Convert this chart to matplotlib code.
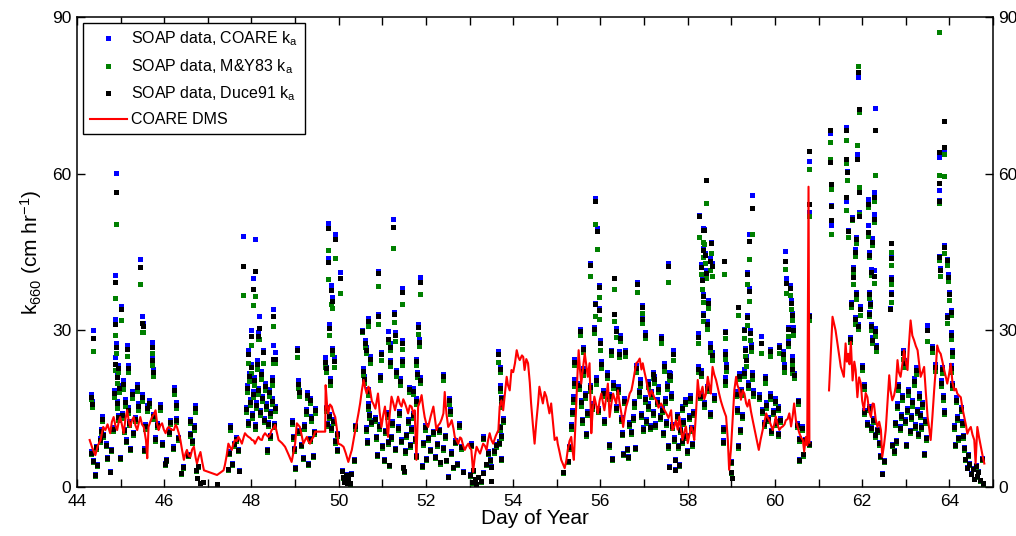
import matplotlib.pyplot as plt
import numpy as np
from matplotlib.ticker import MultipleLocator

plt.rcParams['font.family'] = ['Liberation Sans', 'DejaVu Sans']
plt.rcParams['mathtext.default'] = 'regular'

# SOAP transfer velocities: day of year and k660 for the three ka schemes
day = [
    # 44-47
    44.33, 44.34, 44.37, 44.32, 44.36, 44.42, 44.46, 44.44, 44.52, 44.56,
    44.58, 44.60, 44.66, 44.68, 44.75, 44.78, 44.82, 44.85, 44.86, 44.87,
    44.88, 44.89, 44.90, 44.91, 44.92, 44.93, 44.95, 44.97, 44.98, 45.01,
    45.03, 45.06, 45.08, 45.10, 45.13, 45.15, 45.16, 45.18, 45.20, 45.22,
    45.25, 45.28, 45.32, 45.38, 45.40, 45.45, 45.50, 45.52, 45.48, 45.53,
    45.56, 45.60, 45.66, 45.72, 45.73, 45.74, 45.75, 45.78, 45.83, 45.90,
    45.95, 46.02, 46.04, 46.10, 46.13, 46.20, 46.23, 46.26, 46.28, 46.31,
    46.38, 46.42, 46.55, 46.58, 46.60, 46.63, 46.68, 46.71, 46.73, 46.75,
    46.78, 46.83, 46.89, 47.20,
    # 47.4-50.8
    47.45, 47.48, 47.51, 47.55, 47.60, 47.65, 47.70, 47.72, 47.81, 48.07,
    48.03, 48.18, 47.99, 48.16, 47.93, 48.27, 48.50, 48.50, 48.54, 47.88,
    47.90, 47.92, 47.95, 47.97, 48.00, 48.02, 48.04, 48.06, 48.08, 48.10,
    48.12, 48.14, 48.19, 48.22, 48.24, 48.28, 48.31, 48.34, 48.37, 48.40,
    48.43, 48.46, 48.48, 48.52, 48.55, 48.35, 48.42, 49.04, 49.07, 49.08,
    49.27, 49.25, 49.34, 49.36, 49.46, 48.92, 48.95, 48.98, 49.00, 49.10,
    49.13, 49.17, 49.20, 49.30, 49.33, 49.40, 49.43, 49.75, 49.76, 49.92,
    50.03, 49.83, 49.84, 49.77, 49.85, 49.69, 49.70, 49.90, 49.80, 49.71,
    49.73, 49.78, 49.82, 49.88, 49.91, 49.95, 49.97, 50.08, 50.10, 50.13,
    50.16, 50.19, 50.22, 50.25, 50.27, 50.34, 50.38, 50.54, 50.67, 50.60,
    50.62, 50.72, 50.55, 50.57, 50.66, 50.68, 50.70, 50.62, 50.65, 50.75,
    # 50.8-53.8
    50.90, 50.91, 50.97, 50.95, 51.25, 51.26, 51.45, 51.13, 51.17, 51.29,
    51.46, 51.18, 51.32, 51.44, 51.86, 51.82, 51.83, 51.77, 51.80, 51.87,
    51.71, 51.78, 51.61, 51.40, 52.40, 52.53, 52.55, 52.76, 50.82, 50.85,
    50.88, 50.92, 51.00, 51.03, 51.06, 51.10, 51.12, 51.15, 51.20, 51.23,
    51.30, 51.35, 51.38, 51.42, 51.48, 51.50, 51.52, 51.55, 51.58, 51.63,
    51.66, 51.70, 51.74, 51.76, 51.90, 51.93, 51.97, 52.00, 52.05, 52.10,
    52.15, 52.20, 52.25, 52.30, 52.33, 52.38, 52.43, 52.46, 52.50, 52.58,
    52.62, 52.66, 52.70, 52.80, 52.85, 53.00, 53.05, 53.08, 53.12, 53.15,
    53.20, 53.25, 53.30, 53.50, 53.04, 53.31, 53.46, 53.48, 53.42, 53.38,
    53.73, 53.66, 53.69, 53.70, 53.71, 53.73, 53.70, 53.72, 53.68, 53.77,
    53.55, 53.60,
    # 55-57.6
    55.14, 55.25, 55.28, 55.32, 55.35, 55.37, 55.39, 55.40, 55.52, 55.61,
    55.50, 55.55, 55.58, 55.60, 55.65, 55.68, 55.70, 55.75, 55.80, 55.88,
    55.92, 55.77, 55.96, 55.88, 55.97, 55.86, 56.00, 56.02, 55.90, 56.05,
    55.94, 56.08, 56.19, 56.27, 56.32, 56.31, 56.35, 56.44, 56.25, 56.42,
    56.57, 56.15, 56.20, 56.28, 56.35, 56.40, 56.48, 56.50, 56.55, 56.60,
    56.62, 56.65, 56.52, 56.84, 56.95, 56.96, 57.01, 56.82, 56.70, 56.75,
    56.78, 56.80, 56.88, 56.90, 56.93, 56.98, 57.02, 57.05, 57.08, 57.10,
    57.13, 57.16, 57.20, 57.23, 57.26, 57.30, 57.33, 57.36, 57.40, 57.44,
    57.48, 57.50, 57.55, 57.58, 57.39, 57.55, 57.45, 57.56, 57.53, 57.21,
    # 57.6-60.8
    57.66, 57.60, 57.62, 57.64, 57.68, 57.70, 57.72, 57.75, 57.78, 57.80,
    57.83, 57.86, 57.88, 57.90, 57.93, 57.96, 57.98, 58.02, 58.05, 58.08,
    58.10, 58.12, 58.42, 58.27, 58.34, 58.38, 58.53, 58.35, 58.40, 58.50,
    58.55, 58.30, 58.43, 58.32, 58.36, 58.46, 58.34, 58.44, 58.23, 58.50,
    58.56, 58.24, 58.30, 58.28, 58.38, 58.45, 58.52, 58.60, 58.84, 58.85,
    58.86, 58.87, 58.86, 58.80, 58.82, 58.99, 59.00, 59.02, 59.15, 59.30,
    59.31, 59.47, 59.41, 59.35, 59.36, 59.41, 59.42, 59.45, 59.33, 59.10,
    59.12, 59.18, 59.22, 59.25, 59.28, 59.38, 59.48, 59.50, 59.20, 59.15,
    59.67, 59.78, 59.89, 60.10, 59.64, 59.70, 59.75, 59.80, 59.84, 59.88,
    59.92, 59.95, 60.00, 60.03, 60.06, 60.08, 60.12, 60.24, 60.25, 60.35,
    60.37, 60.38, 60.29, 60.30, 60.41, 60.18, 60.20, 60.39, 60.40, 60.43,
    60.52, 60.50, 60.55, 60.56, 60.64, 60.62, 60.70, 60.77, 60.78, 60.79,
    60.78,
    # 61.2-64.8
    61.26, 61.27, 61.28, 61.29, 61.28, 61.62, 61.63, 61.66, 61.64, 61.76,
    61.67, 61.85, 61.84, 61.91, 61.92, 61.89, 61.93, 61.92, 62.29, 62.27,
    62.13, 62.26, 62.14, 62.23, 62.16, 62.20, 62.27, 62.16, 62.17, 62.15,
    62.20, 62.22, 62.30, 62.32, 62.65, 62.65, 62.65, 62.65, 62.64, 61.78,
    61.80, 61.86, 61.75, 61.83, 61.90, 61.72, 61.95, 62.00, 62.04, 62.05,
    62.10, 62.15, 62.20, 62.25, 62.30, 62.35, 62.38, 62.41, 62.50, 62.46,
    62.69, 62.72, 62.75, 62.78, 62.80, 62.83, 62.86, 62.89, 62.92, 62.93,
    62.95, 62.98, 63.01, 63.03, 63.06, 63.09, 63.12, 63.15, 63.18, 63.20,
    63.23, 63.25, 63.28, 63.30, 63.32, 63.35, 63.38, 63.41, 63.43, 63.46,
    63.48, 63.59, 63.75, 63.88, 63.88, 63.76, 63.76, 63.88, 63.77, 63.95,
    63.78, 63.97, 63.98, 64.03, 63.95, 64.04, 64.06, 63.84, 63.80, 63.88,
    63.85, 64.03, 64.05, 64.10, 64.12, 64.26, 64.28, 64.30, 64.33, 64.36,
    64.40, 64.43, 64.46, 64.50, 64.53, 64.56, 64.60, 64.63, 64.66, 64.70,
    64.76, 64.74, 64.15, 64.18, 64.20, 63.68,
]

k_coare = [
    17.9, 16.4, 30.0, 6.9, 5.1, 2.5, 4.4, 7.9, 9.4, 11.2,
    13.6, 10.2, 8.4, 5.8, 3.0, 7.2, 11.5, 18.6, 24.9, 32.1,
    40.6, 60.1, 27.6, 21.8, 16.4, 13.8, 23.4, 19.6, 5.8, 34.6,
    14.2, 20.5, 11.2, 16.8, 9.2, 27.2, 23.3, 15.3, 12.6, 7.5,
    18.4, 10.6, 13.5, 19.8, 16.0, 43.7, 32.7, 31.5, 17.8, 7.4,
    12.0, 15.7, 16.6, 25.0, 27.7, 22.6, 14.0, 9.5, 12.2, 15.8,
    8.6, 4.6, 5.3, 10.9, 12.8, 7.8, 19.1, 16.2, 13.3, 9.6,
    2.7, 4.0, 6.4, 13.0, 10.4, 9.0, 11.8, 15.7, 3.3, 1.8,
    4.1, 0.8, 1.0, 0.5,
    3.5, 6.8, 11.9, 4.6, 8.4, 9.5, 7.2, 3.2, 48.0, 47.4,
    40.1, 32.8, 30.0, 29.7, 26.3, 26.3, 34.1, 27.2, 25.8, 15.4,
    19.5, 12.6, 21.8, 16.8, 23.6, 14.2, 18.4, 21.0, 12.0, 16.2,
    24.3, 19.0, 14.8, 22.2, 17.5, 13.3, 20.0, 16.0, 12.5, 18.7,
    14.6, 21.0, 17.0, 12.2, 15.6, 7.2, 10.0, 26.7, 20.5, 18.6,
    18.2, 15.0, 17.1, 13.6, 15.2, 12.8, 9.8, 7.4, 3.8, 11.0,
    8.3, 5.8, 12.0, 4.6, 9.4, 6.2, 10.8, 50.6, 43.8, 48.5,
    41.2, 38.7, 36.4, 31.3, 26.6, 24.9, 23.0, 24.8, 20.8, 15.4,
    12.3, 14.0, 11.6, 13.0, 9.0, 7.2, 10.4, 3.2, 1.9, 1.0,
    2.4, 0.8, 1.6, 0.7, 2.6, 5.3, 11.9, 30.0, 32.4, 28.1,
    26.9, 25.0, 22.7, 21.2, 18.8, 16.0, 14.2, 11.5, 9.0, 12.8,
    41.4, 33.2, 25.8, 21.4, 51.3, 33.5, 38.1, 29.8, 27.5, 29.7,
    28.1, 24.3, 22.4, 24.6, 40.2, 31.2, 28.4, 24.6, 22.1, 21.0,
    18.9, 17.0, 19.2, 20.8, 21.7, 17.0, 15.0, 12.2, 13.5, 9.8,
    6.4, 12.0, 8.0, 5.4, 11.0, 14.4, 8.8, 4.3, 9.8, 12.6,
    7.5, 11.6, 14.6, 9.2, 3.9, 3.1, 7.0, 10.2, 13.0, 8.2,
    11.4, 14.2, 9.4, 6.2, 4.2, 8.6, 11.8, 5.6, 9.6, 7.2,
    10.8, 6.0, 8.4, 11.2, 4.8, 7.6, 10.0, 5.2, 2.1, 6.8,
    3.9, 9.0, 4.6, 7.8, 3.0, 2.4, 0.9, 3.3, 1.5, 0.6,
    2.0, 1.1, 2.8, 1.2, 8.4, 9.7, 5.3, 4.0, 6.8, 4.5,
    5.6, 26.0, 23.0, 19.5, 16.1, 17.3, 11.6, 10.0, 8.8, 13.2,
    7.0, 8.2,
    2.9, 5.0, 7.8, 12.0, 14.8, 17.5, 20.6, 24.5, 30.2, 26.9,
    20.0, 16.6, 13.1, 22.8, 18.0, 10.4, 14.6, 19.6, 16.0, 55.4,
    49.5, 42.8, 38.7, 35.3, 34.2, 30.7, 28.1, 24.2, 21.0, 18.5,
    15.2, 13.0, 8.2, 5.6, 40.1, 33.1, 30.4, 29.1, 26.2, 26.0,
    26.2, 22.0, 17.9, 20.2, 15.6, 19.4, 13.4, 10.5, 17.0, 7.4,
    6.0, 12.4, 6.6, 39.2, 34.8, 32.6, 29.6, 23.3, 10.8, 13.6,
    16.4, 7.7, 18.6, 20.6, 14.2, 11.4, 17.2, 13.0, 20.3, 16.0,
    11.8, 18.4, 14.6, 21.2, 12.2, 16.8, 19.4, 13.8, 15.2, 10.6,
    17.0, 12.6, 8.0, 4.0, 28.9, 42.8, 23.7, 22.0, 20.0, 22.1,
    26.3, 21.8, 18.0, 12.0, 9.5, 5.4, 3.4, 14.0, 8.0, 4.4,
    11.2, 15.6, 9.0, 12.8, 16.8, 10.0, 7.0, 13.8, 17.6, 11.4,
    8.4, 14.6, 58.7, 52.1, 49.6, 49.4, 46.9, 45.8, 44.9, 43.8,
    42.8, 42.7, 41.5, 40.5, 37.0, 35.8, 33.3, 31.8, 29.4, 27.5,
    25.8, 23.2, 22.4, 18.0, 16.2, 19.4, 14.4, 17.6, 43.3, 29.9,
    26.0, 23.6, 21.0, 11.4, 9.0, 4.9, 2.9, 1.8, 34.5, 30.2,
    26.6, 55.9, 48.4, 41.2, 33.0, 38.2, 30.0, 27.4, 25.0, 18.4,
    15.2, 21.8, 18.8, 14.0, 22.6, 20.2, 22.0, 18.6, 11.2, 8.0,
    28.9, 21.2, 26.4, 27.2, 17.8, 15.0, 12.4, 16.2, 13.4, 18.0,
    11.0, 14.8, 17.0, 12.6, 15.6, 10.4, 13.2, 45.1, 40.1, 38.7,
    35.8, 33.3, 30.7, 28.1, 30.7, 26.0, 23.5, 25.0, 23.2, 21.8,
    16.7, 12.2, 9.4, 5.3, 6.4, 11.6, 9.2, 62.4, 52.7, 33.0,
    8.5,
    67.7, 62.5, 58.1, 50.1, 54.0, 68.9, 62.3, 60.5, 54.7, 51.7,
    49.2, 47.9, 45.6, 78.6, 72.3, 63.8, 57.0, 52.6, 72.6, 56.5,
    55.2, 52.3, 50.1, 47.6, 45.0, 41.8, 41.5, 37.4, 35.4, 33.5,
    31.3, 28.8, 30.5, 27.2, 46.7, 44.4, 40.2, 37.4, 34.2, 42.1,
    40.9, 37.4, 35.5, 32.6, 31.3, 28.7, 34.6, 23.3, 19.8, 14.7,
    12.4, 15.6, 11.6, 13.2, 10.2, 11.2, 8.6, 6.1, 5.1, 2.6,
    8.3, 7.0, 12.5, 9.0, 16.0, 19.8, 11.6, 14.0, 17.6, 26.2,
    24.3, 13.0, 8.2, 15.2, 18.8, 11.0, 13.8, 16.6, 20.8, 12.0,
    23.0, 15.0, 10.4, 18.0, 14.2, 11.8, 16.2, 6.6, 13.0, 9.6,
    31.0, 27.0, 63.2, 70.0, 64.8, 56.8, 55.0, 46.3, 44.2, 43.7,
    41.9, 40.7, 37.4, 33.8, 33.0, 29.7, 26.2, 23.0, 20.5, 14.7,
    17.6, 23.4, 20.0, 11.8, 8.3, 15.4, 12.6, 10.0, 7.6, 5.4,
    3.8, 6.4, 4.6, 2.6, 3.6, 1.6, 4.2, 2.2, 3.0, 1.3,
    0.7, 5.6, 17.2, 13.6, 9.6, 23.6,
]

k_my83 = [
    16.8, 15.3, 26.1, 6.3, 4.8, 2.2, 4.0, 7.3, 8.7, 10.4,
    12.7, 9.6, 7.8, 5.4, 2.8, 6.8, 10.8, 17.2, 22.4, 29.1,
    36.2, 50.3, 25.6, 20.0, 15.2, 12.8, 22.0, 18.2, 5.4, 32.0,
    13.2, 18.8, 10.5, 15.6, 8.6, 25.1, 22.1, 14.2, 11.8, 7.0,
    17.1, 9.9, 12.6, 18.4, 14.8, 38.9, 29.6, 29.6, 16.5, 6.9,
    11.2, 14.6, 15.6, 23.4, 25.6, 21.3, 13.0, 8.9, 11.4, 14.8,
    8.0, 4.3, 4.9, 10.2, 12.0, 7.3, 17.9, 15.2, 12.4, 9.0,
    2.5, 3.7, 6.0, 12.2, 9.7, 8.4, 11.0, 14.4, 3.0, 1.7,
    3.8, 0.7, 0.9, 0.5,
    3.2, 6.4, 11.0, 4.3, 7.9, 8.9, 6.8, 3.0, 36.7, 36.6,
    34.8, 28.3, 27.2, 28.3, 23.7, 23.7, 30.8, 23.7, 23.7, 14.3,
    18.2, 11.8, 20.3, 15.7, 21.8, 13.2, 17.2, 19.6, 11.2, 15.1,
    22.6, 17.8, 13.8, 20.6, 16.4, 12.4, 18.6, 15.0, 11.7, 17.4,
    13.6, 19.6, 15.9, 11.4, 14.6, 6.7, 9.3, 24.8, 19.0, 17.4,
    17.0, 14.0, 16.0, 12.7, 14.2, 12.0, 9.2, 6.9, 3.5, 10.3,
    7.8, 5.4, 11.2, 4.3, 8.8, 5.8, 10.1, 45.4, 39.9, 43.9,
    37.1, 35.1, 34.2, 29.1, 25.4, 22.9, 22.0, 23.0, 19.6, 14.6,
    11.6, 13.2, 10.9, 12.2, 8.5, 6.8, 9.8, 3.0, 1.8, 0.9,
    2.2, 0.7, 1.5, 0.6, 2.4, 4.9, 11.2, 29.7, 30.8, 26.9,
    25.6, 23.8, 21.5, 20.0, 17.6, 15.0, 13.3, 10.8, 8.4, 12.0,
    38.5, 31.2, 24.3, 20.5, 45.7, 31.6, 35.1, 27.8, 26.3, 28.0,
    26.5, 23.2, 21.3, 23.4, 36.9, 29.3, 27.0, 23.4, 21.0, 19.9,
    17.8, 15.9, 18.1, 19.6, 20.5, 15.9, 14.0, 11.4, 12.7, 9.2,
    6.0, 11.2, 7.5, 5.0, 10.3, 13.5, 8.2, 4.0, 9.2, 11.8,
    7.0, 10.9, 13.7, 8.6, 3.6, 2.9, 6.6, 9.6, 12.2, 7.7,
    10.7, 13.3, 8.8, 5.8, 3.9, 8.1, 11.0, 5.2, 9.0, 6.8,
    10.2, 5.6, 7.9, 10.5, 4.5, 7.1, 9.4, 4.9, 2.0, 6.4,
    3.6, 8.4, 4.3, 7.3, 2.8, 2.2, 0.8, 3.1, 1.4, 0.6,
    1.9, 1.0, 2.6, 1.1, 7.9, 9.1, 5.0, 3.8, 6.4, 4.2,
    5.2, 24.0, 22.0, 18.4, 15.4, 16.6, 11.0, 9.4, 8.2, 12.4,
    6.6, 7.7,
    2.7, 4.7, 7.3, 11.2, 13.9, 16.2, 19.4, 23.4, 29.2, 25.8,
    18.8, 15.6, 12.3, 21.5, 17.0, 9.8, 13.8, 18.4, 15.0, 50.3,
    45.5, 40.4, 36.4, 32.8, 32.1, 29.4, 26.2, 22.8, 19.8, 17.4,
    14.3, 12.2, 7.7, 5.2, 37.9, 31.8, 28.8, 28.0, 25.3, 24.8,
    25.0, 20.8, 16.9, 19.0, 14.7, 18.2, 12.6, 9.9, 16.0, 7.0,
    5.6, 11.7, 6.2, 37.4, 33.4, 31.4, 28.5, 22.0, 10.2, 12.8,
    15.4, 7.2, 17.5, 19.4, 13.4, 10.7, 16.2, 12.2, 19.1, 15.0,
    11.1, 17.3, 13.7, 20.0, 11.5, 15.8, 18.2, 13.0, 14.3, 10.0,
    16.0, 11.9, 7.5, 3.8, 27.5, 39.2, 22.3, 20.6, 18.8, 20.9,
    24.3, 20.5, 17.0, 11.3, 8.9, 5.1, 3.2, 13.2, 7.5, 4.1,
    10.5, 14.7, 8.5, 12.0, 15.8, 9.4, 6.6, 13.0, 16.5, 10.7,
    7.9, 13.7, 54.3, 47.9, 47.0, 46.5, 44.8, 44.0, 42.8, 41.5,
    40.5, 40.8, 40.0, 38.0, 35.4, 34.2, 31.8, 30.2, 27.5, 25.8,
    24.3, 22.0, 21.2, 17.0, 15.3, 18.3, 13.6, 16.6, 40.8, 28.5,
    24.6, 22.2, 19.6, 10.7, 8.4, 4.6, 2.7, 1.7, 32.9, 28.5,
    25.0, 48.4, 43.6, 38.8, 31.0, 35.6, 28.1, 26.0, 23.2, 17.4,
    14.3, 20.6, 17.7, 13.2, 21.3, 19.0, 20.7, 17.5, 10.5, 7.5,
    25.6, 20.0, 25.0, 25.6, 16.8, 14.1, 11.7, 15.2, 12.6, 16.9,
    10.3, 13.9, 16.0, 11.8, 14.7, 9.8, 12.4, 41.7, 37.1, 36.8,
    34.0, 32.0, 29.0, 27.0, 29.2, 24.5, 22.0, 23.6, 21.9, 20.8,
    15.8, 11.5, 8.8, 5.0, 6.0, 10.9, 8.6, 60.8, 51.8, 32.0,
    8.0,
    66.0, 62.9, 57.1, 48.4, 53.8, 66.5, 62.1, 58.7, 53.0, 51.1,
    47.9, 46.8, 44.2, 80.6, 71.9, 65.4, 57.5, 52.3, 59.7, 54.8,
    53.6, 50.8, 48.0, 46.4, 44.1, 40.6, 39.0, 36.2, 34.6, 32.8,
    30.0, 27.5, 29.0, 26.0, 45.0, 42.5, 38.9, 35.4, 34.0, 40.9,
    38.9, 36.0, 34.5, 31.3, 30.2, 27.8, 33.0, 22.4, 18.8, 13.9,
    11.8, 14.8, 11.0, 12.5, 9.6, 10.5, 8.1, 5.8, 4.8, 2.4,
    7.8, 6.6, 11.8, 8.5, 15.1, 18.6, 10.9, 13.2, 16.6, 24.6,
    23.0, 12.2, 7.8, 14.3, 17.7, 10.4, 13.0, 15.6, 19.6, 11.3,
    21.7, 14.1, 9.8, 17.0, 13.4, 11.1, 15.3, 6.2, 12.2, 9.0,
    28.0, 25.9, 87.1, 63.7, 59.5, 59.7, 54.3, 44.8, 43.5, 42.5,
    40.5, 39.5, 35.8, 33.0, 31.4, 28.3, 25.0, 21.8, 19.4, 13.9,
    16.6, 22.0, 19.0, 11.1, 7.8, 14.5, 11.8, 9.4, 7.1, 5.1,
    3.6, 6.0, 4.3, 2.4, 3.4, 1.5, 3.9, 2.0, 2.8, 1.2,
    0.6, 5.2, 16.2, 12.8, 9.0, 22.3,
]

k_duce91 = [
    17.2, 15.8, 28.6, 6.6, 5.0, 2.3, 4.2, 7.6, 9.0, 10.8,
    13.1, 9.9, 8.1, 5.6, 2.9, 7.0, 11.2, 18.0, 23.6, 31.2,
    39.2, 56.5, 26.9, 21.0, 16.0, 13.4, 22.8, 18.9, 5.6, 34.0,
    13.8, 19.8, 10.9, 16.3, 8.9, 26.4, 22.8, 14.8, 12.2, 7.2,
    17.8, 10.3, 13.1, 19.2, 15.5, 42.2, 31.5, 30.8, 17.2, 7.1,
    11.6, 15.2, 16.1, 24.3, 26.9, 22.0, 13.6, 9.2, 11.8, 15.3,
    8.3, 4.5, 5.1, 10.6, 12.4, 7.5, 18.5, 15.7, 12.9, 9.3,
    2.6, 3.9, 6.2, 12.6, 10.1, 8.8, 11.4, 15.2, 3.2, 1.8,
    4.0, 0.8, 1.0, 0.5,
    3.4, 6.6, 11.5, 4.5, 8.2, 9.2, 7.0, 3.1, 42.4, 41.4,
    38.0, 30.5, 29.0, 29.0, 25.4, 25.8, 32.8, 24.6, 24.5, 15.0,
    18.9, 12.2, 21.2, 16.3, 22.9, 13.8, 17.9, 20.4, 11.6, 15.7,
    23.6, 18.5, 14.4, 21.6, 17.0, 12.9, 19.4, 15.5, 12.1, 18.2,
    14.2, 20.4, 16.5, 11.8, 15.1, 7.0, 9.7, 26.2, 19.8, 18.1,
    17.6, 14.6, 16.6, 13.2, 14.8, 12.4, 9.5, 7.2, 3.7, 10.7,
    8.1, 5.6, 11.6, 4.5, 9.1, 6.0, 10.5, 49.5, 43.1, 47.5,
    40.1, 37.8, 35.6, 30.4, 26.2, 24.0, 22.7, 24.2, 20.3, 15.1,
    12.0, 13.6, 11.3, 12.6, 8.8, 7.0, 10.1, 3.1, 1.9, 1.0,
    2.3, 0.8, 1.6, 0.7, 2.5, 5.2, 11.6, 29.8, 31.8, 27.6,
    26.2, 24.6, 22.2, 20.7, 18.3, 15.6, 13.8, 11.2, 8.7, 12.4,
    40.9, 32.7, 25.4, 21.0, 49.7, 33.2, 37.3, 28.4, 26.9, 29.2,
    27.6, 23.9, 22.0, 24.1, 39.3, 30.7, 27.8, 24.1, 21.7, 20.5,
    18.4, 16.5, 18.7, 20.3, 21.2, 16.6, 14.6, 11.9, 13.1, 9.5,
    6.2, 11.6, 7.8, 5.2, 10.7, 14.0, 8.6, 4.2, 9.5, 12.2,
    7.3, 11.3, 14.2, 8.9, 3.8, 3.0, 6.8, 9.9, 12.6, 8.0,
    11.1, 13.8, 9.1, 6.0, 4.1, 8.4, 11.4, 5.4, 9.3, 7.0,
    10.5, 5.8, 8.2, 10.9, 4.7, 7.4, 9.7, 5.1, 2.0, 6.6,
    3.8, 8.7, 4.5, 7.6, 2.9, 2.3, 0.9, 3.2, 1.5, 0.6,
    2.0, 1.1, 2.7, 1.1, 8.1, 9.4, 5.2, 3.9, 6.6, 4.4,
    5.4, 25.4, 22.6, 19.0, 15.8, 17.0, 11.4, 9.7, 8.5, 12.9,
    6.8, 8.0,
    2.8, 4.9, 7.6, 11.6, 14.4, 16.9, 20.0, 24.0, 29.8, 26.4,
    19.5, 16.2, 12.8, 22.2, 17.6, 10.1, 14.2, 19.1, 15.6, 54.8,
    49.1, 42.5, 38.3, 35.0, 33.8, 30.2, 27.5, 23.6, 20.4, 18.0,
    14.8, 12.6, 8.0, 5.4, 40.1, 33.1, 29.8, 28.6, 26.0, 25.5,
    25.8, 21.4, 17.4, 19.6, 15.2, 18.8, 13.0, 10.2, 16.5, 7.2,
    5.8, 12.1, 6.4, 38.8, 34.4, 32.2, 29.2, 22.8, 10.5, 13.2,
    16.0, 7.5, 18.1, 20.0, 13.8, 11.1, 16.8, 12.6, 19.7, 15.5,
    11.5, 17.9, 14.2, 20.6, 11.9, 16.3, 18.8, 13.4, 14.8, 10.3,
    16.5, 12.2, 7.8, 3.9, 28.6, 42.3, 23.1, 21.4, 19.4, 21.6,
    25.5, 21.2, 17.5, 11.6, 9.2, 5.2, 3.3, 13.6, 7.8, 4.3,
    10.9, 15.2, 8.8, 12.4, 16.3, 9.7, 6.8, 13.4, 17.1, 11.1,
    8.2, 14.2, 58.8, 51.9, 49.3, 49.2, 46.7, 45.4, 44.5, 43.2,
    42.4, 42.2, 41.0, 39.6, 36.6, 35.3, 32.9, 31.3, 28.8, 26.9,
    25.3, 22.6, 21.9, 17.5, 15.8, 18.9, 14.0, 17.1, 43.3, 29.6,
    25.4, 23.0, 20.3, 11.1, 8.7, 4.8, 2.8, 1.8, 34.4, 30.0,
    26.2, 53.5, 47.2, 40.8, 32.6, 37.6, 29.4, 26.9, 24.3, 17.9,
    14.8, 21.2, 18.3, 13.6, 21.9, 19.6, 21.4, 18.0, 10.9, 7.8,
    27.5, 20.8, 26.0, 26.8, 17.3, 14.6, 12.0, 15.7, 13.0, 17.5,
    10.7, 14.4, 16.5, 12.2, 15.1, 10.1, 12.8, 43.3, 39.0, 38.2,
    35.2, 33.0, 30.2, 27.6, 30.0, 25.4, 23.0, 24.4, 22.6, 21.4,
    16.4, 11.9, 9.1, 5.2, 6.3, 11.3, 9.0, 64.4, 54.2, 32.7,
    8.3,
    68.4, 62.2, 58.0, 51.2, 53.9, 68.4, 62.9, 60.3, 55.5, 51.4,
    49.0, 47.4, 45.0, 79.5, 72.3, 62.9, 56.5, 51.8, 68.4, 55.5,
    54.2, 51.4, 48.8, 47.0, 44.5, 41.2, 40.5, 36.9, 35.0, 33.2,
    30.8, 28.2, 29.8, 26.8, 46.7, 43.8, 39.8, 37.0, 34.0, 41.8,
    40.2, 37.0, 35.0, 32.2, 30.9, 28.4, 34.0, 23.0, 19.4, 14.4,
    12.1, 15.2, 11.3, 12.9, 9.9, 10.9, 8.4, 6.0, 5.0, 2.5,
    8.1, 6.8, 12.2, 8.8, 15.6, 19.3, 11.3, 13.6, 17.2, 25.6,
    23.8, 12.7, 8.0, 14.8, 18.3, 10.7, 13.4, 16.2, 20.3, 11.7,
    22.4, 14.6, 10.1, 17.5, 13.8, 11.5, 15.8, 6.4, 12.6, 9.3,
    30.0, 26.7, 64.2, 70.0, 65.1, 58.2, 54.8, 46.0, 44.0, 43.4,
    41.5, 40.3, 37.0, 33.5, 32.6, 29.2, 25.8, 22.6, 20.0, 14.4,
    17.2, 22.8, 19.5, 11.5, 8.1, 15.0, 12.3, 9.7, 7.4, 5.3,
    3.7, 6.2, 4.5, 2.5, 3.5, 1.6, 4.1, 2.1, 2.9, 1.3,
    0.7, 5.4, 16.7, 13.2, 9.3, 23.0,
]

# COARE DMS model line (nan = gap in record)
dms_day = [
    44.29, 44.35, 44.42, 44.48, 44.54, 44.60, 44.65, 44.70, 44.76, 44.80,
    44.84, 44.88, 44.92, 44.96, 44.99, 45.03, 45.07, 45.11, 45.15, 45.19,
    45.22, 45.26, 45.30, 45.34, 45.38, 45.42, 45.45, 45.49, 45.53, 45.58,
    45.61, 45.64, 45.68, 45.72, 45.76, 45.80, 45.84, 45.87, 45.91, 45.95,
    45.99, 46.03, 46.07, 46.10, 46.16, 46.22, 46.26, 46.29, 46.33, 46.37,
    46.41, 46.45, 46.49, 46.52, 46.56, 46.60, 46.64, 46.68, 46.72, 46.75,
    46.79, 46.83, 46.87, 46.91, 47.21, 47.36, 47.39, 47.43, 47.47, 47.51,
    47.55, 47.58, 47.62, 47.66, 47.70, 47.74, 47.78, 47.82, 47.85, 47.89,
    47.93, 47.97, 48.01, 48.05, 48.08, 48.12, 48.16, 48.20, 48.24, 48.27,
    48.31, 48.35, 48.39, 48.43, 48.46, 48.50, 48.54, 48.58, 48.62, 48.70,
    48.77, 48.85, 48.92, 48.96, 49.00, 49.04, 49.08, 49.11, 49.15, 49.19,
    49.23, 49.27, 49.30, 49.34, 49.38, 49.42, 49.46, 49.69, 49.70, 49.73,
    49.76, 49.80, 49.84, 49.88, 49.92, 49.96, 49.99, 50.05, 50.11, 50.16,
    50.22, 50.26, 50.30, 50.35, 50.41, 50.45, 50.49, 50.53, 50.57, 50.61,
    50.64, 50.68, 50.72, 50.76, 50.79, 50.84, 50.90, 50.94, 50.98, 51.02,
    51.06, 51.10, 51.13, 51.17, 51.21, 51.25, 51.29, 51.33, 51.36, 51.40,
    51.44, 51.48, 51.52, 51.56, 51.59, 51.63, 51.67, 51.71, 51.74, 51.78,
    51.82, 51.86, 51.90, 51.94, 51.97, 52.01, 52.05, 52.11, 52.17, 52.21,
    52.24, 52.28, 52.32, 52.36, 52.40, 52.43, 52.47, 52.51, 52.55, 52.59,
    52.63, 52.66, 52.70, 52.74, 52.78, 52.81, 52.85, 52.89, 52.93, 52.97,
    53.00, 53.04, 53.08, 53.12, 53.16, 53.20, 53.24, 53.28, 53.31, 53.35,
    53.39, 53.42, 53.46, 53.50, 53.54, 53.60, 53.66, 53.69, 53.73, 53.77,
    53.81, 53.85, 53.88, 53.92, 53.96, 54.00, 54.04, 54.08, 54.12, 54.15,
    54.20, 54.23, 54.26, 54.30, 54.34, 54.38, 54.41, 54.45, 54.49, 54.53,
    54.57, 54.60, 54.64, 54.68, 54.72, 54.76, 54.80, 54.83, 54.87, 54.91,
    54.95, 55.00, 55.02, 55.06, 55.10, 55.14, 55.18, 55.22, 55.25, 55.29,
    55.33, 55.36, 55.39, 55.44, 55.47, 55.50, 55.53, 55.56, 55.60, 55.64,
    55.68, 55.71, 55.75, 55.79, 55.82, 55.86, 55.90, 55.94, 55.98, 56.02,
    56.06, 56.09, 56.13, 56.17, 56.21, 56.25, 56.29, 56.32, 56.36, 56.40,
    56.44, 56.48, 56.52, 56.55, 56.59, 56.63, 56.67, 56.71, 56.74, 56.78,
    56.82, 56.86, 56.90, 56.94, 56.97, 57.01, 57.05, 57.09, 57.13, 57.17,
    57.20, 57.24, 57.28, 57.33, 57.39, 57.45, 57.51, 57.56, 57.62, 57.65,
    57.69, 57.73, 57.77, 57.81, 57.84, 57.88, 57.92, 57.96, 58.00, 58.04,
    58.08, 58.12, 58.15, 58.19, 58.23, 58.27, 58.30, 58.34, 58.38, 58.42,
    58.46, 58.50, 58.53, 58.57, 58.61, 58.65, 58.69, 58.72, 58.76, 58.80,
    58.84, 58.88, 58.92, 58.95, 58.99, 59.03, 59.07, 59.11, 59.14, 59.18,
    59.22, 59.26, 59.30, 59.34, 59.37, 59.41, 59.45, 59.49, 59.56, 59.63,
    59.67, 59.72, 59.76, 59.80, 59.84, 59.87, 59.91, 59.95, 59.99, 60.02,
    60.06, 60.10, 60.14, 60.18, 60.22, 60.25, 60.29, 60.33, 60.37, 60.41,
    60.44, 60.48, 60.52, 60.56, 60.60, 60.64, 60.67, 60.71, 60.74, 60.77,
    60.79, 60.80, 61.24, 61.32, 61.39, 61.45, 61.51, 61.58, 61.62, 61.65,
    61.68, 61.71, 61.74, 61.78, 61.82, 61.85, 61.89, 61.93, 61.97, 62.00,
    62.04, 62.08, 62.12, 62.16, 62.20, 62.24, 62.27, 62.31, 62.35, 62.39,
    62.43, 62.46, 62.50, 62.54, 62.58, 62.62, 62.65, 62.69, 62.73, 62.77,
    62.81, 62.84, 62.88, 62.92, 62.96, 63.00, 63.04, 63.07, 63.11, 63.15,
    63.19, 63.23, 63.27, 63.30, 63.34, 63.38, 63.42, 63.46, 63.50, 63.54,
    63.57, 63.61, 63.65, 63.69, 63.72, 63.76, 63.80, 63.84, 63.88, 63.92,
    63.95, 63.99, 64.03, 64.07, 64.11, 64.15, 64.18, 64.22, 64.26, 64.30,
    64.34, 64.38, 64.41, 64.45, 64.49, 64.53, 64.57, 64.60, 64.64, 64.68,
    64.72, 64.76, 64.80,
]

dms_k = [
    9.0, 7.5, 6.1, 8.0, 9.0, 11.5, 10.9, 12.0, 10.3, 12.5,
    13.4, 11.8, 10.9, 12.6, 13.4, 11.9, 10.3, 13.0, 14.7, 12.4,
    11.5, 12.8, 13.4, 11.8, 10.9, 12.4, 13.4, 12.0, 11.5, 9.0,
    5.5, 11.5, 12.5, 13.4, 13.9, 14.7, 12.0, 10.9, 11.8, 12.2,
    11.0, 10.3, 11.2, 11.5, 11.0, 10.9, 11.9, 11.5, 10.4, 9.0,
    7.0, 5.2, 6.5, 7.1, 6.0, 5.8, 7.2, 7.7, 5.6, 4.5,
    5.8, 6.7, 4.8, 3.2, 2.3, 3.2, 4.2, 6.0, 8.3, 7.6,
    7.1, 8.2, 9.0, 8.8, 9.6, 9.0, 8.3, 9.5, 10.3, 9.9,
    9.6, 9.4, 9.0, 8.9, 8.3, 9.0, 9.6, 9.1, 9.0, 9.8,
    10.3, 9.9, 9.6, 10.1, 10.9, 11.2, 11.9, 10.5, 9.0, 8.4,
    7.7, 6.2, 4.8, 6.5, 8.3, 12.2, 11.8, 11.5, 9.9, 8.3,
    9.0, 9.6, 8.8, 8.3, 9.1, 9.6, 10.6, 10.6, 19.5, 16.0,
    14.1, 15.8, 15.4, 14.2, 13.4, 11.0, 8.3, 8.1, 7.7, 6.5,
    4.8, 6.0, 7.1, 9.5, 12.2, 14.0, 16.0, 18.5, 20.5, 18.8,
    17.9, 19.2, 18.5, 16.4, 16.0, 15.0, 17.9, 14.2, 11.5, 13.8,
    15.4, 12.0, 9.6, 14.0, 17.3, 16.1, 14.7, 16.2, 17.3, 16.0,
    15.4, 16.8, 16.0, 15.0, 14.1, 15.6, 15.4, 14.0, 14.7, 5.2,
    15.4, 16.3, 17.6, 15.0, 13.4, 12.0, 11.5, 13.6, 15.4, 12.8,
    10.9, 11.8, 12.2, 13.0, 14.1, 18.2, 14.0, 11.5, 12.0, 12.8,
    11.2, 9.6, 9.0, 8.3, 9.5, 9.3, 8.0, 7.1, 7.8, 8.3,
    7.6, 7.1, 2.9, 5.8, 7.7, 7.0, 6.4, 7.5, 8.3, 7.9,
    7.1, 8.8, 10.3, 9.0, 8.3, 9.8, 10.9, 15.4, 16.6, 14.7,
    18.0, 21.1, 19.5, 18.5, 22.4, 22.0, 23.7, 26.2, 24.8, 24.3,
    25.2, 24.9, 22.4, 24.5, 23.7, 20.0, 16.0, 12.0, 8.3, 12.5,
    16.0, 19.2, 17.5, 16.0, 18.2, 17.3, 15.5, 14.1, 16.0, 12.5,
    9.0, 9.5, 8.3, 6.8, 5.2, 4.4, 3.6, 5.2, 7.1, 8.8,
    9.6, 7.0, 5.2, 14.7, 21.0, 26.2, 22.5, 19.8, 22.8, 25.6,
    23.0, 21.1, 23.7, 10.3, 14.5, 17.3, 15.8, 14.1, 16.5, 17.9,
    16.0, 14.7, 17.0, 19.8, 13.4, 16.0, 17.9, 17.0, 16.0, 18.5,
    16.0, 14.1, 11.5, 13.5, 15.4, 16.5, 17.9, 18.5, 19.8, 21.8,
    23.7, 24.0, 24.6, 22.5, 23.7, 22.0, 20.5, 18.6, 17.3, 18.5,
    17.9, 17.0, 16.6, 15.2, 16.0, 15.0, 14.1, 13.2, 14.7, 10.9,
    11.5, 12.8, 11.0, 13.5, 11.4, 9.0, 10.5, 11.6, 8.4, 10.0,
    11.6, 10.5, 9.0, 14.1, 20.5, 17.3, 18.0, 19.2, 16.8, 17.9,
    21.1, 19.2, 17.9, 23.0, 21.5, 20.5, 19.0, 17.9, 16.5, 15.4,
    14.4, 13.5, 9.0, 3.3, 7.1, 13.0, 18.6, 21.1, 19.5, 18.6,
    16.7, 18.5, 17.9, 16.0, 15.4, 16.7, 14.5, 12.8, 10.0, 7.1,
    9.0, 10.9, 12.5, 14.1, 13.2, 12.8, 11.8, 10.9, 12.2, 13.5,
    12.0, 10.9, 11.4, 11.6, 12.0, 12.8, 13.0, 14.1, 11.6, 13.8,
    16.0, 12.8, 11.5, 10.3, 9.5, 9.0, 6.8, 9.6, 8.0, 57.5,
    8.5, np.nan, 18.5, 32.6, 30.0, 26.5, 23.0, 21.1, 27.5, 24.0,
    25.5, 23.5, 27.8, 20.4, 24.0, 22.4, 17.2, 21.0, 19.8, 16.5,
    14.7, 18.0, 17.2, 14.5, 13.4, 16.0, 15.9, 13.0, 11.5, 12.5,
    10.9, 5.8, 8.0, 10.9, 16.0, 21.4, 18.5, 16.6, 17.5, 19.2,
    24.3, 22.0, 21.1, 23.5, 26.2, 24.0, 22.4, 27.0, 31.9, 29.0,
    28.1, 27.0, 26.2, 24.0, 21.1, 22.0, 23.0, 18.0, 13.4, 11.0,
    9.0, 13.5, 18.5, 23.0, 27.1, 26.0, 25.5, 24.0, 22.4, 21.0,
    19.8, 21.5, 23.6, 20.0, 18.5, 18.8, 17.9, 17.5, 17.2, 15.0,
    13.4, 11.8, 10.2, 11.0, 11.5, 10.0, 9.0, 4.5, 11.5, 9.5,
    7.7, 6.0, 4.5,
]

fig = plt.figure(figsize=(10.16, 5.36), dpi=100)
ax = fig.add_axes([0.0758, 0.0914, 0.9016, 0.8769])

ms = 3.6
ax.plot(day, k_coare, 's', color='#0000ff', ms=ms, mew=0,
        label='SOAP data, COARE k$_a$')
ax.plot(day, k_my83, 's', color='#008000', ms=ms, mew=0,
        label='SOAP data, M&Y83 k$_a$')
ax.plot(day, k_duce91, 's', color='k', ms=ms, mew=0,
        label='SOAP data, Duce91 k$_a$')
ax.plot(dms_day, dms_k, '-', color='#ff0000', lw=1.5, label='COARE DMS')

ax.set_xlim(44, 65)
ax.set_ylim(0, 90)
ax.xaxis.set_major_locator(MultipleLocator(2))
ax.xaxis.set_minor_locator(MultipleLocator(1))
ax.set_yticks([0, 30, 60, 90])
ax.tick_params(which='both', direction='in', top=True, right=True,
               labelright=True, length=6, width=1, labelsize=12.5)
ax.tick_params(axis='x', pad=5)
ax.tick_params(axis='y', pad=4)
for s in ax.spines.values():
    s.set_linewidth(1.1)

ax.set_xlabel('Day of Year', fontsize=15, labelpad=0)
ax.set_ylabel('k$_{660}$ (cm hr$^{-1}$)', fontsize=15, labelpad=6)

leg = ax.legend(loc='upper left', fontsize=11.5, numpoints=1, fancybox=False,
                framealpha=1, edgecolor='k', borderaxespad=0.35,
                handlelength=2.3, handletextpad=0.3, labelspacing=0.55,
                borderpad=0.45)
leg.get_frame().set_linewidth(1.0)

fig.savefig('out.png', dpi=100)
